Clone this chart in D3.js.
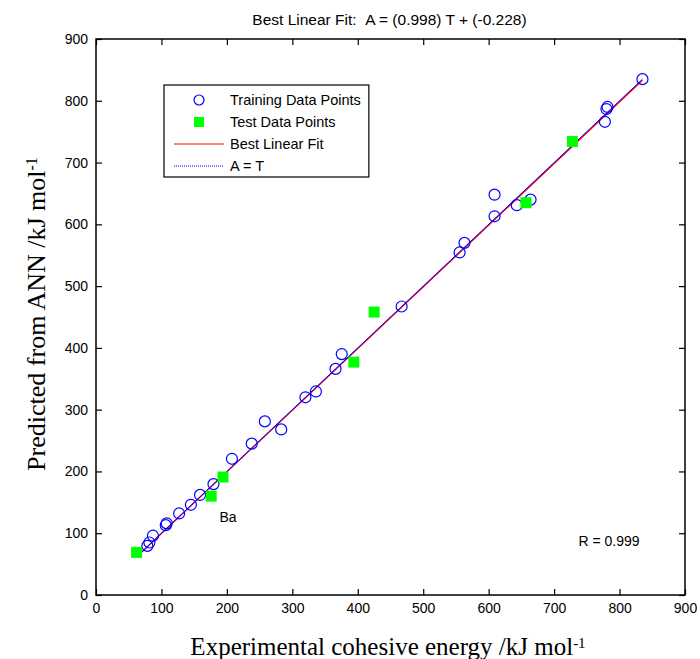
<!DOCTYPE html>
<html>
<head>
<meta charset="utf-8">
<script src="https://cdn.jsdelivr.net/npm/d3@7"></script>
<style>
  body { margin: 0; background: #fff; }
  svg text { font-family: "Liberation Sans", Arial, sans-serif; }
</style>
</head>
<body>
<div id="chart"></div>
<script>
// dữ liệu: [T (thực nghiệm), A (ANN)]
const trainT = [78.5, 81.6, 87, 106.6, 108, 127, 145, 159, 179.5, 207.7, 238, 258, 283, 320, 336, 366, 375.5, 467, 555.6, 563, 609, 609, 643, 664, 777.6, 780, 781.6, 835];
const trainA = [79.5, 85, 96, 113, 116, 132, 146, 162, 179.5, 220.5, 245, 281, 268, 320, 329.5, 366, 390, 467, 554.5, 570, 613, 648, 631, 640, 766, 786.6, 790, 835];
const testT = [62, 176, 194, 394, 425, 657, 728];
const testA = [69, 160, 191, 377, 458, 635, 734];
const ticks = [0, 100, 200, 300, 400, 500, 600, 700, 800, 900];
const fitSlope = 0.998, fitIntercept = -0.228;
const fitRange = [62, 835];
const legendLabels = ["Training Data Points", "Test Data Points", "Best Linear Fit", "A = T"];

const W = 700, H = 659;
const margin = { top: 39, right: 15, bottom: 64, left: 96 };
const iw = W - margin.left - margin.right;
const ih = H - margin.top - margin.bottom;

const svg = d3.select("#chart").append("svg")
  .attr("width", W).attr("height", H);

const x = d3.scaleLinear().domain([0, 900]).range([margin.left, margin.left + iw]);
const y = d3.scaleLinear().domain([0, 900]).range([margin.top + ih, margin.top]);

// tiêu đề (giữ 2 dấu cách sau "Fit:")
svg.append("text")
  .attr("x", margin.left + iw / 2 - 1).attr("y", 25)
  .attr("text-anchor", "middle")
  .style("font-size", "15.5px")
  .text(`Best Linear Fit:\u00a0\u00a0A = (${fitSlope}) T + (${fitIntercept})`);

// trục (ticks hướng vào trong, kiểu MATLAB)
const tickLen = 6;
svg.append("g").attr("transform", `translate(0,${margin.top + ih})`)
  .call(d3.axisBottom(x).tickValues(ticks).tickSize(-tickLen).tickPadding(8).tickSizeOuter(0))
  .call(g => g.selectAll("text").style("font-size", "14px"));
svg.append("g").attr("transform", `translate(0,${margin.top})`)
  .call(d3.axisTop(x).tickValues(ticks).tickSize(-tickLen).tickFormat("").tickSizeOuter(0));
svg.append("g").attr("transform", `translate(${margin.left},0)`)
  .call(d3.axisLeft(y).tickValues(ticks).tickSize(-tickLen).tickPadding(8).tickSizeOuter(0))
  .call(g => g.selectAll("text").style("font-size", "14px"));
svg.append("g").attr("transform", `translate(${margin.left + iw},0)`)
  .call(d3.axisRight(y).tickValues(ticks).tickSize(-tickLen).tickFormat("").tickSizeOuter(0));
svg.selectAll(".domain").remove();
svg.selectAll(".tick line").attr("stroke", "#000").attr("stroke-width", 1.2);

svg.append("rect")
  .attr("x", margin.left).attr("y", margin.top)
  .attr("width", iw).attr("height", ih)
  .attr("fill", "none").attr("stroke", "#000").attr("stroke-width", 1.5);

// đường fit và A = T
svg.append("line")
  .attr("x1", x(fitRange[0])).attr("y1", y(fitSlope * fitRange[0] + fitIntercept))
  .attr("x2", x(fitRange[1])).attr("y2", y(fitSlope * fitRange[1] + fitIntercept))
  .attr("stroke", "#ff0000").attr("stroke-width", 1.3);
svg.append("line")
  .attr("x1", x(fitRange[0])).attr("y1", y(fitRange[0]))
  .attr("x2", x(fitRange[1])).attr("y2", y(fitRange[1]))
  .attr("stroke", "#0000ff").attr("stroke-width", 1);

// điểm train
svg.selectAll(".train")
  .data(trainT.map((t, i) => [t, trainA[i]]))
  .enter().append("circle")
    .attr("class", "train")
    .attr("cx", d => x(d[0])).attr("cy", d => y(d[1]))
    .attr("r", 5.5)
    .attr("fill", "none").attr("stroke", "#0000ff").attr("stroke-width", 1.2);

// điểm test
const sq = 11;
svg.selectAll(".test")
  .data(testT.map((t, i) => [t, testA[i]]))
  .enter().append("rect")
    .attr("class", "test")
    .attr("x", d => x(d[0]) - sq / 2).attr("y", d => y(d[1]) - sq / 2)
    .attr("width", sq).attr("height", sq)
    .attr("fill", "#00ff00");

// nhãn Ba
svg.append("text")
  .attr("x", 228).attr("y", 522)
  .attr("text-anchor", "middle")
  .style("font-size", "14px")
  .text("Ba");

// R
svg.append("text")
  .attr("x", 609).attr("y", 546)
  .attr("text-anchor", "middle")
  .style("font-size", "14px")
  .text("R = 0.999");

// legend
const lg = svg.append("g");
const lgBox = lg.append("rect")
  .attr("x", 164).attr("y", 85).attr("height", 92)
  .attr("fill", "#fff").attr("stroke", "#000").attr("stroke-width", 1.2);
const rowY = [100, 122, 144, 166];
lg.append("circle").attr("cx", 199).attr("cy", rowY[0]).attr("r", 5)
  .attr("fill", "none").attr("stroke", "#0000ff").attr("stroke-width", 1.2);
lg.append("rect").attr("x", 199 - 5).attr("y", rowY[1] - 5).attr("width", 10).attr("height", 10)
  .attr("fill", "#00ff00");
lg.append("line").attr("x1", 174).attr("x2", 224).attr("y1", rowY[2]).attr("y2", rowY[2])
  .attr("stroke", "#ff0000");
lg.append("line").attr("x1", 174).attr("x2", 224).attr("y1", rowY[3]).attr("y2", rowY[3])
  .attr("stroke", "#0000ff").attr("stroke-dasharray", "1,1");
let maxW = 0;
legendLabels.forEach((t, i) => {
  const tx = lg.append("text")
    .attr("x", 230).attr("y", rowY[i]).attr("dy", "0.35em")
    .style("font-size", "14.5px").text(t);
  maxW = Math.max(maxW, tx.node().getComputedTextLength());
});
lgBox.attr("width", 230 + maxW + 8 - 164);

// nhãn trục
svg.append("text")
  .attr("x", 388).attr("y", 655)
  .attr("text-anchor", "middle")
  .style("font-family", "'Liberation Serif', 'Times New Roman', serif")
  .style("font-size", "25px")
  .text("Experimental cohesive energy /kJ mol")
  .append("tspan").attr("dy", "-0.5em").style("font-size", "15px").text("-1");

svg.append("text")
  .attr("transform", `translate(45,314) rotate(-90)`)
  .attr("text-anchor", "middle")
  .style("font-family", "'Liberation Serif', 'Times New Roman', serif")
  .style("font-size", "26px")
  .text("Predicted from ANN /kJ mol")
  .append("tspan").attr("dy", "-0.5em").style("font-size", "16px").text("-1");
</script>
</body>
</html>
